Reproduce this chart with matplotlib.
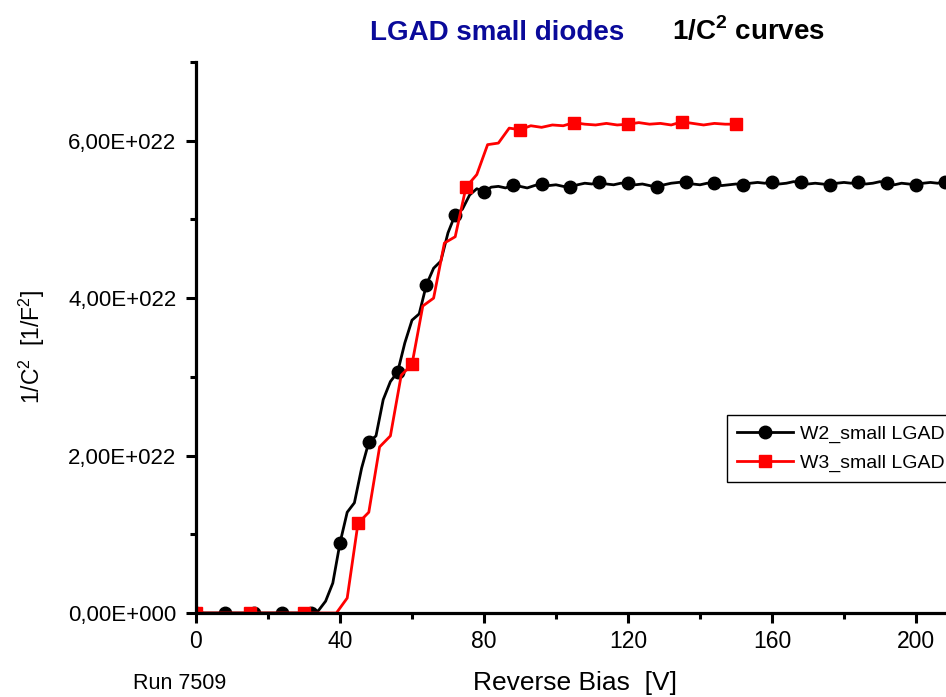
import numpy as np
import matplotlib
matplotlib.use("Agg")
import matplotlib.pyplot as plt
from matplotlib.ticker import MultipleLocator, FuncFormatter

plt.rcParams['font.family'] = ['Liberation Sans', 'DejaVu Sans']
plt.rcParams['mathtext.fontset'] = 'custom'
plt.rcParams['mathtext.rm'] = 'Liberation Sans'
plt.rcParams['mathtext.bf'] = 'Liberation Sans:bold'

# Datos (1/C^2 en unidades de 1E+022)
bias_w2 = np.arange(0, 210, 2)
inv_c2_w2 = np.array([
    0, 0, 0, 0, 0, 0, 0, 0, 0, 0, 0, 0, 0, 0, 0, 0, 0,        # 0-32 V
    0.03, 0.15, 0.38, 0.89, 1.28, 1.40, 1.84, 2.17, 2.25, 2.71,  # 34-52
    2.94, 3.06, 3.43, 3.72, 3.80, 4.17, 4.38, 4.47, 4.83, 5.06,  # 54-72
    5.13, 5.31, 5.39, 5.35, 5.41, 5.42, 5.40, 5.44, 5.42, 5.40,  # 74-92
    5.43, 5.45, 5.43, 5.44, 5.42, 5.41, 5.44, 5.46, 5.45, 5.48,  # 94-112
    5.45, 5.44, 5.46, 5.46, 5.44, 5.45, 5.43, 5.41, 5.44, 5.46,  # 114-132
    5.47, 5.48, 5.45, 5.44, 5.46, 5.46, 5.43, 5.44, 5.45, 5.44,  # 134-152
    5.46, 5.47, 5.46, 5.48, 5.45, 5.46, 5.48, 5.47, 5.45, 5.46,  # 154-172
    5.45, 5.44, 5.46, 5.47, 5.46, 5.48, 5.45, 5.46, 5.48, 5.46,  # 174-192
    5.44, 5.46, 5.45, 5.44, 5.46, 5.47, 5.46, 5.48,              # 194-208
]) * 1e22

bias_w3 = np.arange(0, 153, 3)
inv_c2_w3 = np.array([
    0, 0, 0, 0, 0, 0, 0, 0, 0, 0, 0, 0, 0, 0,                  # 0-39 V
    0.19, 1.14, 1.28, 2.11, 2.25, 3.02, 3.16, 3.90, 4.00, 4.70,  # 42-69
    4.78, 5.41, 5.57, 5.95, 5.97, 6.16, 6.14, 6.19, 6.17, 6.20,  # 72-99
    6.19, 6.23, 6.21, 6.20, 6.22, 6.20, 6.21, 6.23, 6.21, 6.22,  # 102-129
    6.20, 6.24, 6.22, 6.20, 6.22, 6.21, 6.21,                    # 132-150
]) * 1e22

label_w2 = "W2_small LGAD"
label_w3 = "W3_small LGAD"


def formato_cientifico(v, pos):
    if v == 0:
        return "0,00E+000"
    exp = int(np.floor(np.log10(abs(v))))
    mant = v / 10**exp
    return f"{mant:.2f}".replace(".", ",") + f"E+{exp:03d}"


W, H = 946, 697
fig = plt.figure(figsize=(W / 100, H / 100), dpi=100)
ax = fig.add_axes([196 / W, 1 - 613 / H, (W - 196) / W, (613 - 62) / H])

ax.plot(bias_w2, inv_c2_w2, color='black', lw=2.0, marker='o', ms=9,
        markevery=4, label=label_w2)
ax.plot(bias_w3, inv_c2_w3, color='red', lw=2.0, marker='s', ms=8,
        markevery=5, label=label_w3)

ax.set_xlim(0, (W - 196) / 3.6)
ax.set_ylim(0, 7e22)

ax.xaxis.set_major_locator(MultipleLocator(40))
ax.xaxis.set_minor_locator(MultipleLocator(20))
ax.yaxis.set_major_locator(MultipleLocator(2e22))
ax.yaxis.set_minor_locator(MultipleLocator(1e22))
ax.yaxis.set_major_formatter(FuncFormatter(formato_cientifico))

for s in ['top', 'right']:
    ax.spines[s].set_visible(False)
for s in ['left', 'bottom']:
    ax.spines[s].set_linewidth(2.3)

ax.tick_params(which='major', direction='out', length=7, width=2.2)
ax.tick_params(which='minor', direction='out', length=4, width=2.2)
ax.tick_params(axis='y', which='major', labelsize=16, pad=7)
ax.tick_params(axis='x', which='major', labelsize=16.5, pad=5)

leg = ax.legend(loc='upper left', bbox_to_anchor=(727 / W, 1 - 415 / H),
                bbox_transform=fig.transFigure, borderaxespad=0, fontsize=14,
                numpoints=1, handlelength=2.9, handletextpad=0.35,
                fancybox=False, framealpha=1, borderpad=0.5,
                labelspacing=0.6)
leg.get_frame().set_edgecolor('black')
leg.get_frame().set_linewidth(1.0)

# Titulo y etiquetas
fig.text(370 / W, 1 - 40 / H, "LGAD small diodes", color='#0A0A9A',
         fontsize=20, fontweight='bold', ha='left', va='baseline')
fig.text(672 / W, 1 - 40 / H, r"1/C$^{\mathbf{2}}$ curves", color='black',
         fontsize=20, fontweight='bold', ha='left', va='baseline')
fig.text(32 / W, 1 - 347 / H, r"1/C$^2$  [1/F$^2$]", fontsize=16.5,
         rotation=90, ha='center', va='center')
fig.text(575 / W, 1 - 690 / H, "Reverse Bias  [V]", fontsize=19,
         ha='center', va='baseline')
fig.text(133 / W, 1 - 689 / H, "Run 7509", fontsize=15.5,
         ha='left', va='baseline')

fig.savefig("out.png", dpi=100)
